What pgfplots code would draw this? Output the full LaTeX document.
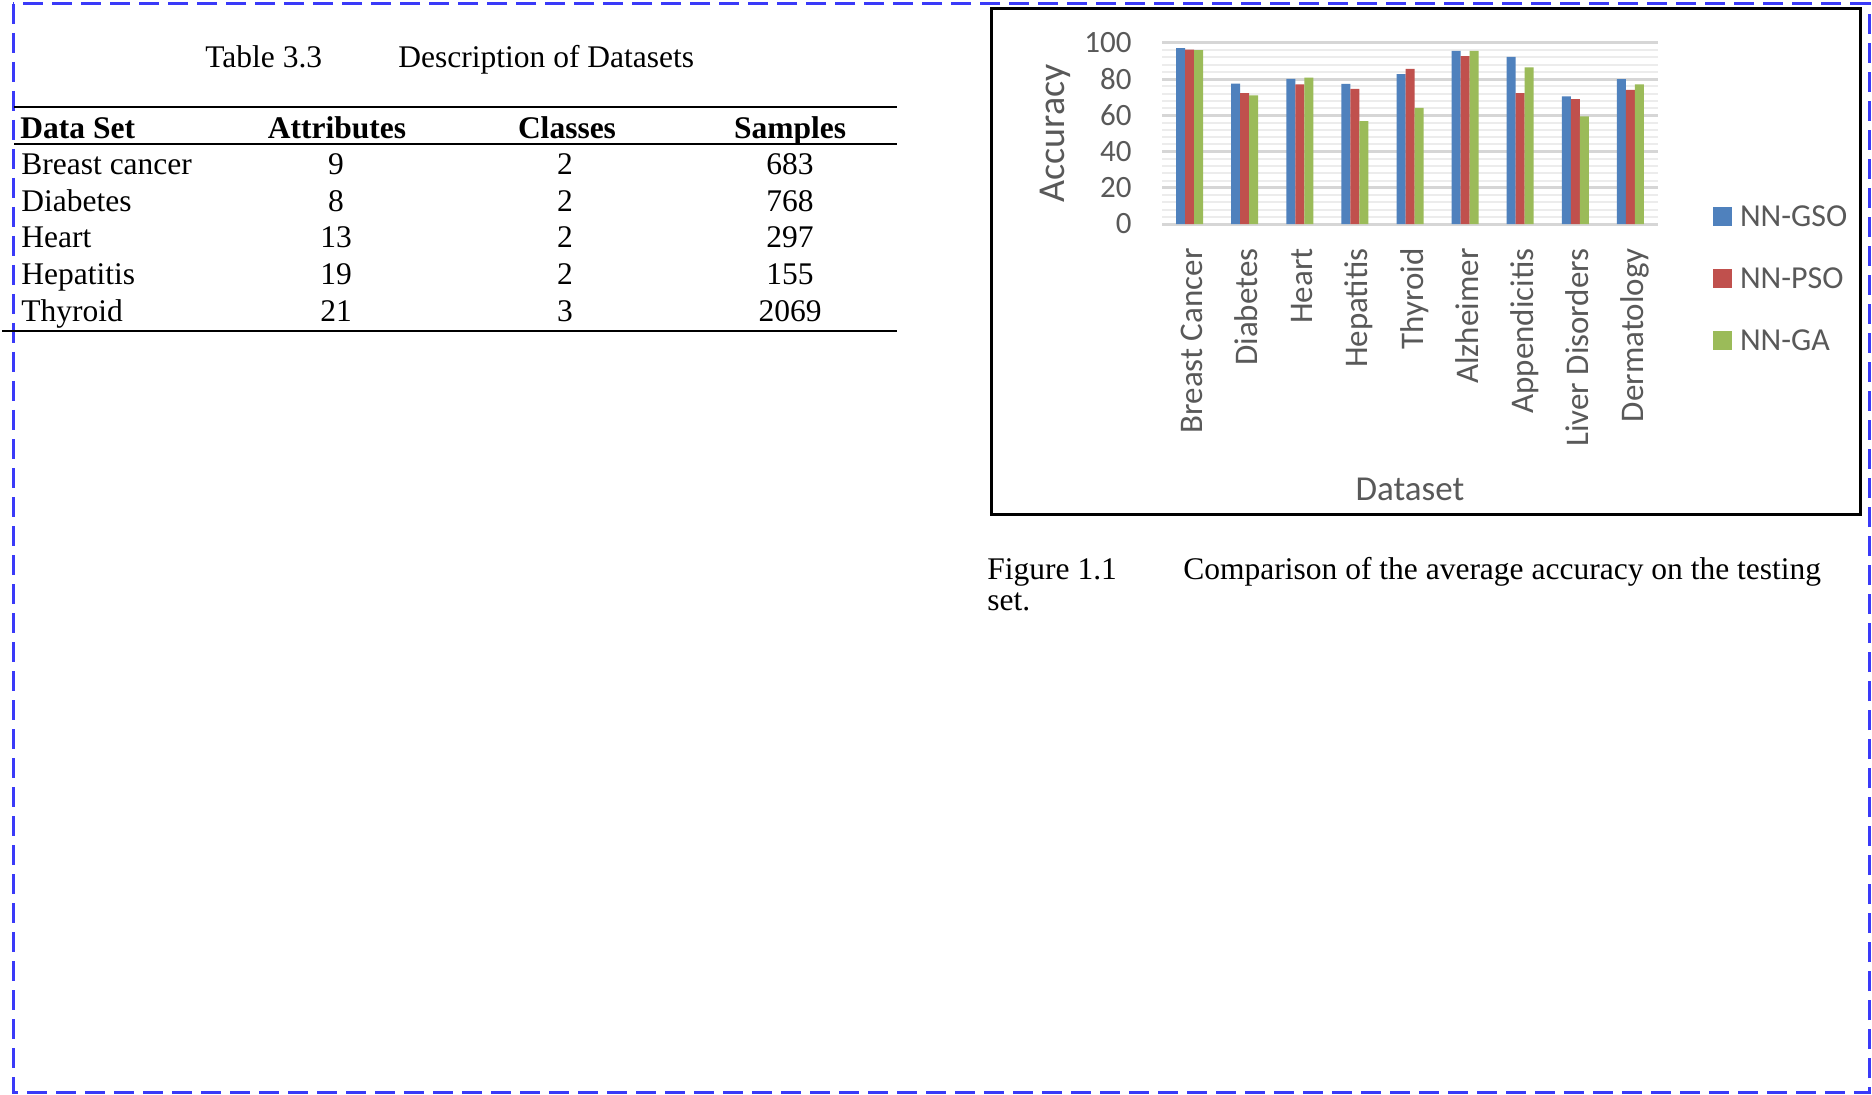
\documentclass[border=0pt]{standalone}
\usepackage{fontspec}
\setmainfont{Liberation Serif}
\newfontfamily\calib{Carlito}
\usepackage{pgfplots}
\pgfplotsset{compat=1.18}
\definecolor{gsoblue}{HTML}{4F81BD}
\definecolor{psored}{HTML}{C0504D}
\definecolor{gagreen}{HTML}{9BBB59}
\definecolor{tickgray}{HTML}{595959}
\definecolor{majgrid}{HTML}{D6D6D6}
\definecolor{mingrid}{HTML}{ECECEC}
\definecolor{dashblue}{HTML}{3A3AF8}
\newcommand\tf{\fontsize{15.75}{18}\selectfont}
\begin{document}
\begin{tikzpicture}
\useasboundingbox (0pt,0pt) rectangle (936pt,547pt);
\begin{scope}[x=0.5pt,y=0.5pt]
\fill[white] (0,0) rectangle (1872,1094);
% dashed page border
\draw[dashblue, line width=1.5pt, dash pattern=on 10pt off 4.5pt] (13,1090) rectangle (1869,2);
% ---- table ----
\begin{scope}[every node/.style={inner sep=0pt, font=\tf}]
\node[anchor=base west] at (205,1026) {Table 3.3};
\node[anchor=base west] at (398,1026) {Description of Datasets};
\draw[line width=1.3pt] (14,987) -- (897,987);
\node[anchor=base west] at (20,955) {\bfseries Data Set};
\node[anchor=base] at (337,955) {\bfseries Attributes};
\node[anchor=base] at (567,955) {\bfseries Classes};
\node[anchor=base] at (790,955) {\bfseries Samples};
\draw[line width=1.2pt] (14,950) -- (897,950);
\node[anchor=base west] at (21,919) {Breast cancer};
\node[anchor=base] at (336,919) {9};
\node[anchor=base] at (565,919) {2};
\node[anchor=base] at (790,919) {683};
\node[anchor=base west] at (21,882) {Diabetes};
\node[anchor=base] at (336,882) {8};
\node[anchor=base] at (565,882) {2};
\node[anchor=base] at (790,882) {768};
\node[anchor=base west] at (21,846) {Heart};
\node[anchor=base] at (336,846) {13};
\node[anchor=base] at (565,846) {2};
\node[anchor=base] at (790,846) {297};
\node[anchor=base west] at (21,809) {Hepatitis};
\node[anchor=base] at (336,809) {19};
\node[anchor=base] at (565,809) {2};
\node[anchor=base] at (790,809) {155};
\node[anchor=base west] at (21,772) {Thyroid};
\node[anchor=base] at (336,772) {21};
\node[anchor=base] at (565,772) {3};
\node[anchor=base] at (790,772) {2069};
\draw[line width=1.3pt] (2,763) -- (897,763);
% caption
\node[anchor=base west] at (987,515) {Figure 1.1};
\node[anchor=base west] at (1183,515) {Comparison of the average accuracy on the testing};
\node[anchor=base west] at (987,484) {set.};
\end{scope}
% chart frame
\draw[black, line width=1.5pt] (991,1085) rectangle (1860,580);
\end{scope}
% ---- chart ----
\begin{axis}[
  at={(581pt,435pt)}, anchor=south west,
  scale only axis, width=248pt, height=90.5pt,
  ybar=0pt, bar width=4.5pt,
  xmin=-0.5, xmax=8.5, ymin=0, ymax=100,
  enlargelimits=false, clip=false,
  axis line style={draw=none},
  major tick length=0pt, minor tick length=0pt,
  ytick={0,20,40,60,80,100},
  minor y tick num=4,
  ymajorgrids, yminorgrids,
  major grid style={majgrid, line width=1.5pt},
  minor grid style={mingrid, line width=1pt},
  extra y ticks={0}, extra y tick labels={},
  extra y tick style={grid style={majgrid, line width=2.25pt}},
  xtick={0,1,2,3,4,5,6,7,8},
  xticklabels={Breast Cancer,Diabetes,Heart,Hepatitis,Thyroid,Alzheimer,Appendicitis,Liver Disorders,Dermatology},
  /pgf/number format/assume math mode=true,
  yticklabel style={font=\calib\fontsize{15.5}{15.5}\selectfont, text=tickgray, inner sep=0pt, anchor=east},
  yticklabel shift=15pt,
  xticklabel style={font=\calib\fontsize{16.5}{16.5}\selectfont, text=tickgray, inner sep=0pt, rotate=90, anchor=east, text height=13pt, text depth=0pt},
  xticklabel shift=12pt,
  ylabel={Accuracy},
  ylabel style={at={(axis description cs:-0.2157,0.5)}, anchor=center, font=\calib\fontsize{19}{19}\selectfont, text=tickgray, inner sep=0pt},
  xlabel={Dataset},
  xlabel style={at={(axis description cs:0.5,-1.525)}, anchor=base, font=\calib\fontsize{17.5}{17.5}\selectfont, text=tickgray, inner sep=0pt},
  legend style={draw=none, fill=none, at={(axis description cs:1.1109,0.116)}, anchor=north west,
    inner sep=0pt, outer sep=0pt, row sep=16pt,
    nodes={inner sep=0pt, text height=11.5pt, text depth=3.5pt, anchor=base west},
    font=\calib\fontsize{16}{16}\selectfont, text=tickgray,
    /tikz/every odd column/.append style={column sep=4pt}},
  legend cell align=left,
  legend image code/.code={\fill[#1] (0pt,0pt) rectangle (9.5pt,9.5pt);},
]
\addplot[fill=gsoblue, draw=none] coordinates {(0,97.1) (1,77.6) (2,80.2) (3,77.4) (4,82.8) (5,95.6) (6,92.3) (7,70.5) (8,80.0)};
\addplot[fill=psored, draw=none] coordinates {(0,96.3) (1,72.3) (2,77.2) (3,74.7) (4,85.7) (5,92.7) (6,72.3) (7,69.0) (8,74.1)};
\addplot[fill=gagreen, draw=none] coordinates {(0,96.1) (1,71.0) (2,80.9) (3,56.9) (4,64.2) (5,95.6) (6,86.6) (7,59.4) (8,77.2)};
\legend{NN-GSO,NN-PSO,NN-GA}
\end{axis}
\end{tikzpicture}
\end{document}
